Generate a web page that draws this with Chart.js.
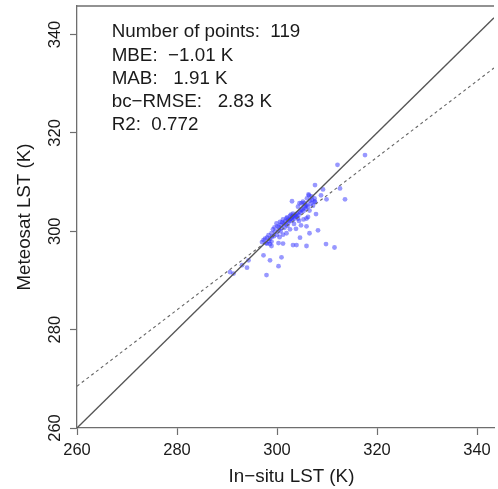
<!DOCTYPE html>
<html>
<head>
<meta charset="utf-8">
<script src="https://cdn.jsdelivr.net/npm/chart.js@4/dist/chart.umd.min.js"></script>
<style>
html,body{margin:0;padding:0;background:#fff;overflow:hidden;}
#wrap{width:498px;height:489px;position:relative;}
</style>
</head>
<body>
<div id="wrap"><canvas id="c" width="498" height="489"></canvas></div>
<script>
// ---- data ----
const xTicks = [260, 280, 300, 320, 340];
const yTicks = [260, 280, 300, 320, 340];
const xRange = [260, 343.4];
const yRange = [260, 345.8];

const insituLST = [
317.6,312.1,307.6,309.2,312.6,313.6,309.9,308.8,306.3,306.9,307.5,306.0,303.0,304.9,304.2,307.6,306.5,307.8,305.9,306.2,
305.3,303.2,302.6,301.9,301.2,300.6,299.9,302.2,302.9,304.2,303.6,305.9,308.2,306.5,300.9,300.3,299.6,298.9,298.3,297.6,
297.3,298.6,304.6,301.2,303.9,303.2,300.3,301.2,298.6,298.9,305.9,309.8,311.5,297.3,300.9,298.6,300.3,297.9,290.6,291.3,
293.0,294.3,294.0,297.0,298.0,298.9,306.4,305.2,305.5,304.5,307.5,
299.2,299.5,300.1,300.4,300.8,301.0,301.4,301.6,301.8,302.0,302.3,302.5,302.7,302.8,303.0,303.1,303.3,303.5,303.7,303.9,
304.0,304.3,304.5,304.7,304.9,305.1,305.3,305.5,305.7,305.8,306.0,306.2,306.6,306.8,307.0,307.2,300.0,299.0,298.4,
298.0,297.8,299.4,300.7,301.5,302.1,302.6,303.4,304.4,304.8,303.8,301.9,300.5
];
const meteosatLST = [
315.5,313.5,309.4,308.5,308.7,306.5,306.5,307.3,307.5,307.1,306.7,306.7,306.1,305.7,305.0,306.0,304.2,303.5,302.6,302.9,
302.4,303.6,303.1,302.6,302.4,301.9,301.6,302.3,302.6,302.6,303.0,301.0,300.2,299.6,300.6,300.2,299.9,299.6,299.2,298.5,
298.2,298.5,298.7,299.3,297.2,297.2,297.6,297.5,297.4,297.0,297.0,297.4,296.7,295.1,294.7,294.1,292.9,291.1,291.7,291.4,
293.1,294.1,292.6,297.8,297.5,297.9,307.3,306.0,305.7,305.7,306.0,
300.4,300.8,301.0,300.9,301.3,301.8,301.6,302.0,301.4,302.8,301.8,302.1,302.5,303.4,302.9,302.2,303.1,302.6,303.4,303.0,
303.6,303.3,304.0,303.8,304.3,304.5,304.1,304.9,305.2,304.6,305.4,305.0,306.2,305.6,306.4,305.2,299.3,298.9,298.0,
298.7,297.6,299.0,300.0,300.7,301.1,300.4,301.5,302.1,301.2,300.5,299.6,298.8
];
// 1:1 line and fitted (dashed) line end points
const oneToOneLine = [{x: 260, y: 260}, {x: 343.4, y: 343.4}];
const fitLine = [{x: 260, y: 268.5}, {x: 343.4, y: 333.2}];

const statLabels = [
  "Number of points:  119",
  "MBE:  \u22121.01 K",
  "MAB:   1.91 K",
  "bc\u2212RMSE:   2.83 K",
  "R2:  0.772"
];
const xTitle = "In\u2212situ LST (K)";
const yTitle = "Meteosat LST (K)";

const points = insituLST.map((v, i) => ({x: v, y: meteosatLST[i]}));

const FONT = '"Liberation Sans", Arial, Helvetica, sans-serif';
const TXT = '#1a1a1a';
const AX = '#6e6e6e';

const overlay = {
  id: 'overlay',
  afterDraw(chart) {
    const ctx = chart.ctx, a = chart.chartArea;
    const xs = chart.scales.x, ys = chart.scales.y;
    ctx.save();
    // top frame line
    ctx.strokeStyle = AX; ctx.lineWidth = 1.3;
    ctx.beginPath(); ctx.moveTo(a.left, a.top); ctx.lineTo(a.right, a.top); ctx.stroke();
    // rotated y tick labels
    ctx.fillStyle = TXT;
    ctx.font = '16.5px ' + FONT;
    ctx.textAlign = 'center'; ctx.textBaseline = 'middle';
    yTicks.forEach(t => {
      const py = ys.getPixelForValue(t);
      ctx.save(); ctx.translate(55, py); ctx.rotate(-Math.PI / 2);
      ctx.fillText(String(t), 0, 0); ctx.restore();
    });
    // axis titles
    ctx.font = '18.8px ' + FONT;
    const cx = xs.getPixelForValue((260 + 345.8) / 2);
    ctx.fillText(xTitle, cx, 477);
    ctx.save(); ctx.translate(25, (ys.getPixelForValue(yRange[0]) + ys.getPixelForValue(yRange[1])) / 2);
    ctx.rotate(-Math.PI / 2); ctx.fillText(yTitle, 0, 0); ctx.restore();
    // statistics text
    ctx.font = '18.8px ' + FONT;
    ctx.textAlign = 'left'; ctx.textBaseline = 'alphabetic';
    statLabels.forEach((s, i) => ctx.fillText(s, 111.7, 37.3 + i * 23.2));
    ctx.restore();
  }
};

new Chart(document.getElementById('c'), {
  type: 'scatter',
  data: {
    datasets: [
      {type: 'line', data: oneToOneLine, borderColor: '#555555', borderWidth: 1.3, pointRadius: 0, fill: false, tension: 0},
      {type: 'line', data: fitLine, borderColor: '#666666', borderWidth: 1.1, borderDash: [3, 3], pointRadius: 0, fill: false, tension: 0},
      {data: points, backgroundColor: 'rgba(50,50,255,0.5)', borderWidth: 0, pointRadius: 2.4}
    ]
  },
  options: {
    responsive: false,
    animation: false,
    devicePixelRatio: 1,
    layout: {padding: {left: 0, right: 0, top: 6, bottom: 0}},
    plugins: {legend: {display: false}, tooltip: {enabled: false}},
    scales: {
      x: {
        type: 'linear', min: xRange[0], max: xRange[1],
        afterBuildTicks: s => { s.ticks = xTicks.map(v => ({value: v})); },
        afterFit: s => { s.height = 61; s.paddingLeft = 0; s.paddingRight = 0; },
        grid: {drawOnChartArea: false, drawTicks: true, tickLength: 7, tickColor: AX, tickWidth: 1.2},
        border: {display: true, color: AX, width: 1.3},
        ticks: {color: TXT, font: {family: FONT, size: 16.5}, padding: 6, maxRotation: 0, autoSkip: false}
      },
      y: {
        type: 'linear', min: yRange[0], max: yRange[1],
        afterBuildTicks: s => { s.ticks = yTicks.map(v => ({value: v})); },
        afterFit: s => { s.width = 77; s.paddingTop = 0; s.paddingBottom = 0; },
        grid: {drawOnChartArea: false, drawTicks: true, tickLength: 7, tickColor: AX, tickWidth: 1.2},
        border: {display: true, color: AX, width: 1.3},
        ticks: {display: false}
      }
    }
  },
  plugins: [overlay]
});
</script>
</body>
</html>
